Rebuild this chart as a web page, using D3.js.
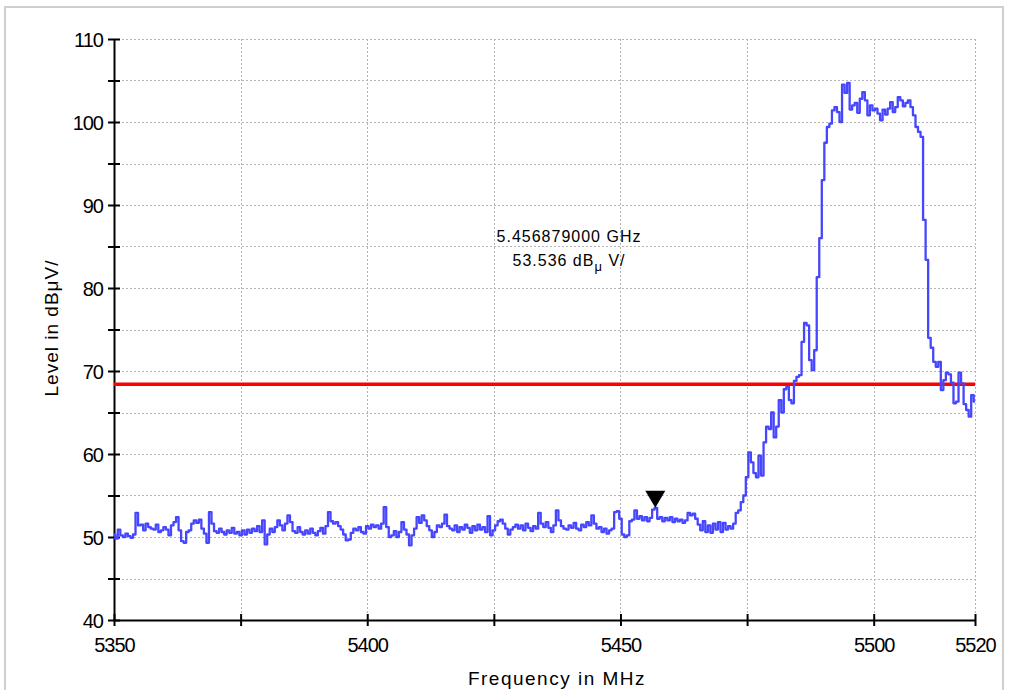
<!DOCTYPE html>
<html>
<head>
<meta charset="utf-8">
<script src="https://cdn.jsdelivr.net/npm/d3@7/dist/d3.min.js"></script>
<style>
  body { margin: 0; background: #fff; }
  svg { display: block; }
  text { font-family: "Liberation Sans", Arial, sans-serif; fill: #000; }
</style>
</head>
<body>
<svg id="mysvg" width="1010" height="690"></svg>
<script>
// sweep: 5350 .. 5520 MHz, 0.5 MHz per point
const sweepStart = 5350;
const sweepStep = 0.5;

// trace levels in dBµV
const levels = [
  50.3, 49.8, 50.9, 50.2, 50.0, 50.4, 50.1, 49.9, 50.3, 52.9,
  51.4, 51.5, 50.8, 51.6, 51.2, 51.0, 50.9, 51.5, 50.6, 50.8,
  51.2, 50.9, 50.2, 51.4, 51.8, 52.4, 50.8, 49.5, 49.3, 50.6,
  50.8, 51.6, 52.0, 51.7, 52.1, 51.0, 50.4, 49.3, 53.0, 51.6,
  50.7, 50.5, 51.0, 50.6, 50.3, 50.8, 50.5, 51.1, 50.4, 50.6,
  50.2, 50.8, 50.3, 50.9, 50.5, 51.0, 50.7, 51.3, 50.6, 52.0,
  49.1, 50.3, 51.0, 50.6, 51.2, 52.0, 51.4, 50.8, 51.6, 52.6,
  51.8, 50.7, 50.5, 51.2, 50.6, 50.3, 50.8, 50.4, 51.0, 50.5,
  50.2, 50.7, 51.1, 50.4, 51.3, 53.0, 51.9, 51.6, 51.8, 51.3,
  50.9, 50.3, 49.6, 49.7, 50.5, 51.0, 50.8, 51.2, 50.6, 50.4,
  51.3, 51.0, 51.5, 51.2, 51.4, 51.0, 51.6, 53.6, 51.2, 50.0,
  50.2, 50.7, 50.0, 50.6, 51.8, 50.9, 50.3, 49.0, 50.2, 51.0,
  52.4, 51.7, 52.6, 52.0, 51.3, 50.8, 50.0, 50.6, 51.4, 51.2,
  51.6, 52.7, 51.3, 51.0, 50.8, 51.4, 50.6, 51.2, 50.9, 51.5,
  51.1, 50.5, 51.3, 50.8, 51.5, 50.9, 51.2, 50.6, 52.5, 50.2,
  50.8, 51.4, 51.9, 52.1, 51.6, 51.0, 50.3, 50.9, 51.2, 51.5,
  51.0, 51.4, 50.8, 51.6, 51.1, 50.7, 51.3, 51.0, 52.9, 51.6,
  51.2, 51.8, 51.1, 50.6, 51.4, 53.2, 52.0, 51.3, 51.0, 50.9,
  51.4, 51.1, 51.7, 51.0, 50.8, 51.5, 51.2, 51.8, 51.4, 52.6,
  51.6, 51.0, 51.2, 50.6, 51.0, 50.4, 50.8, 51.0, 53.0, 53.1,
  52.2, 50.3, 50.0, 50.2, 51.9, 52.1, 53.2, 52.2, 52.5, 52.0,
  52.4, 51.9, 52.3, 53.3, 53.5, 52.2, 52.4, 51.9, 52.3, 52.0,
  52.4, 51.8, 52.2, 51.9, 52.1, 51.7, 52.0, 52.9, 52.6, 52.8,
  52.2, 51.5, 50.8, 51.9, 50.6, 51.4, 50.5, 51.6, 50.9, 51.8,
  50.6, 51.7, 50.9, 51.3, 51.0, 51.6, 52.9, 53.2, 54.2, 55.0,
  57.2, 60.2, 59.0, 57.7, 57.2, 59.8, 57.4, 61.4, 63.3, 63.0,
  65.0, 62.0, 63.3, 66.5, 65.0, 67.8, 68.1, 66.5, 66.1, 68.8,
  69.3, 69.5, 73.5, 75.8, 75.5, 71.3, 70.1, 72.5, 81.3, 86.0,
  93.0, 97.5, 99.4, 99.8, 101.4, 101.8, 101.2, 100.0, 104.5, 103.5,
  104.7, 101.5, 102.0, 102.3, 101.1, 102.8, 103.6, 102.6, 100.8, 102.0,
  101.4, 101.6, 101.0, 100.2, 101.5, 100.9, 101.6, 102.4, 101.2, 101.8,
  103.0, 102.6, 101.9, 102.3, 102.6, 101.8, 100.8, 99.4, 98.8, 98.2,
  88.2, 83.4, 74.0, 72.8, 71.1, 70.5, 71.1, 67.7, 68.9, 69.8,
  69.6, 68.6, 66.1, 66.3, 69.8, 68.5, 66.0, 65.3, 64.5, 67.1,
  66.3
];

const xTicks = [5350, 5375, 5400, 5425, 5450, 5475, 5500, 5520];
const xLabels = [5350, 5400, 5450, 5500, 5520];
const yTicks = [40, 45, 50, 55, 60, 65, 70, 75, 80, 85, 90, 95, 100, 105, 110];
const yLabels = [40, 50, 60, 70, 80, 90, 100, 110];

const limitLevel = 68.4;
const markerFreq = 5456.879;
const markerLevel = 53.536;
const markerLines = ["5.456879000 GHz", "53.536 dB"];

const svg = d3.select("#mysvg");

// outer frame
svg.append("rect")
  .attr("x", 5).attr("y", 7)
  .attr("width", 998).attr("height", 700)
  .attr("fill", "#fff")
  .attr("stroke", "#cfcfcf")
  .attr("stroke-width", 2);

const x = d3.scaleLinear().domain([5350, 5520]).range([114, 975]);
const y = d3.scaleLinear().domain([40, 110]).range([620, 39]);

// dotted grid
const grid = svg.append("g").attr("class", "grid")
  .attr("stroke", "#b4b4b4").attr("stroke-width", 1)
  .attr("stroke-dasharray", "2,2");

grid.selectAll("line.v").data(xTicks.slice(1)).join("line")
  .attr("class", "v")
  .attr("x1", d => Math.round(x(d)) + 0.5).attr("x2", d => Math.round(x(d)) + 0.5)
  .attr("y1", y(110)).attr("y2", y(40));

grid.selectAll("line.h").data(yTicks.slice(1)).join("line")
  .attr("class", "h")
  .attr("x1", x(5350)).attr("x2", x(5520))
  .attr("y1", d => Math.round(y(d)) + 0.5).attr("y2", d => Math.round(y(d)) + 0.5);

// axes
const xAxis = d3.axisBottom(x).tickValues(xTicks).tickSizeInner(6).tickSizeOuter(0)
  .tickFormat(d => xLabels.includes(d) ? d : "");
const yAxis = d3.axisLeft(y).tickValues(yTicks).tickSizeInner(6).tickSizeOuter(0)
  .tickFormat(d => yLabels.includes(d) ? d : "");

const gx = svg.append("g").attr("transform", `translate(0,${y(40)})`).call(xAxis);
const gy = svg.append("g").attr("transform", `translate(${x(5350)},0)`).call(yAxis);

[gx, gy].forEach(g => {
  g.select(".domain").attr("stroke", "#000").attr("stroke-width", 2);
  g.selectAll(".tick line").attr("stroke", "#000").attr("stroke-width", 2);
  g.selectAll(".tick text")
    .attr("font-family", "Liberation Sans, Arial, sans-serif")
    .attr("font-size", 20)
    .attr("letter-spacing", "-1px")
    .attr("fill", "#000");
});
// ticks cross the axis line
gx.selectAll(".tick line").attr("y1", -6).attr("y2", 6);
gy.selectAll(".tick line").attr("x1", -6).attr("x2", 6);
gx.selectAll(".tick text").attr("y", 18).attr("dy", "0.71em");
gy.selectAll(".tick text").attr("x", -11).attr("dy", "0.36em");

// limit line
svg.append("line")
  .attr("x1", x(5350)).attr("x2", x(5520))
  .attr("y1", y(limitLevel)).attr("y2", y(limitLevel))
  .attr("stroke", "#ff0000").attr("stroke-width", 3.5);

// trace, drawn as steps like the analyzer display
const line = d3.line()
  .x((d, i) => x(sweepStart + i * sweepStep))
  .y(d => y(d))
  .curve(d3.curveStep);

svg.append("path")
  .datum(levels)
  .attr("fill", "none")
  .attr("stroke", "#4646ff")
  .attr("stroke-width", 2.3)
  .attr("stroke-linejoin", "round")
  .attr("d", line);

// marker triangle
const mx = x(markerFreq), my = y(markerLevel);
svg.append("path")
  .attr("d", `M${mx - 10},${my - 17} L${mx + 10},${my - 17} L${mx},${my} Z`)
  .attr("fill", "#000");

// marker readout
const ann = svg.append("g").attr("font-size", 16).attr("letter-spacing", "1px");
ann.append("text").attr("x", 569).attr("y", 242).attr("text-anchor", "middle")
  .text(markerLines[0]);
const t2 = ann.append("text").attr("x", 569).attr("y", 266).attr("text-anchor", "middle");
t2.append("tspan").text(markerLines[1]);
t2.append("tspan").attr("font-size", 13).attr("dy", 5).text("μ");
t2.append("tspan").attr("dy", -5).text("  V/");

// axis titles
svg.append("text")
  .attr("transform", "translate(58,328) rotate(-90)")
  .attr("text-anchor", "middle")
  .attr("font-size", 19)
  .attr("letter-spacing", "1px")
  .text("Level in dBμV/");

svg.append("text")
  .attr("x", 557).attr("y", 685)
  .attr("text-anchor", "middle")
  .attr("font-size", 19)
  .attr("letter-spacing", "1.5px")
  .text("Frequency in MHz");
</script>
</body>
</html>
